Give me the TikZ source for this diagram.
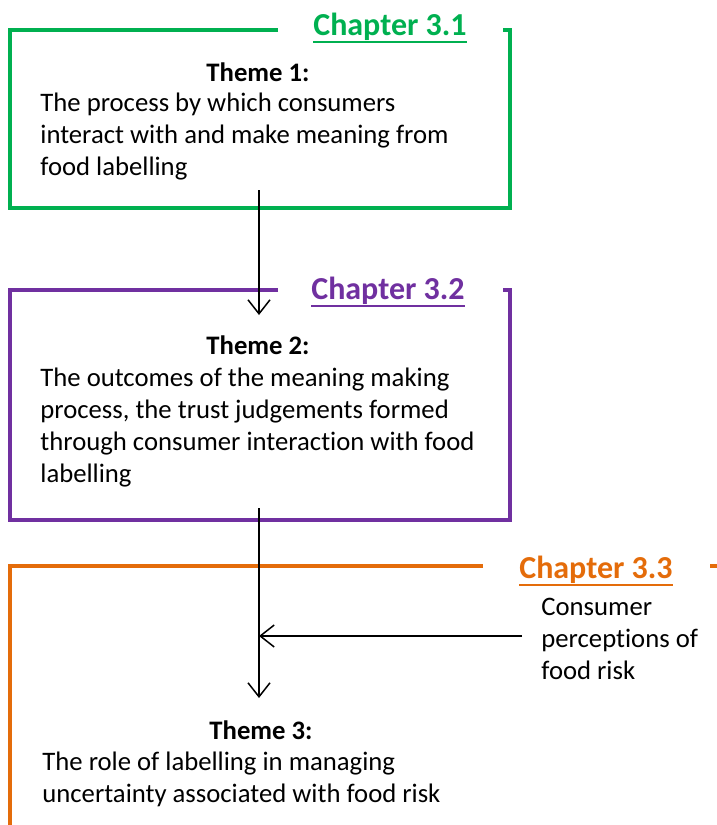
\documentclass[tikz,border=0pt]{standalone}
\usepackage{fontspec}
\setmainfont{Carlito}[Ligatures=NoCommon]
\usepackage{xcolor}
\definecolor{chgreen}{RGB}{0,176,80}
\definecolor{chpurple}{RGB}{112,48,160}
\definecolor{chorange}{RGB}{228,108,10}
\usetikzlibrary{arrows.meta, positioning, calc}
\newcommand{\chapul}[1]{\setbox0\hbox{#1}\rlap{\rule[-4pt]{\wd0}{1pt}}\box0}

\begin{document}
\begin{tikzpicture}[
    x=0.5pt, y=-0.5pt,
    frame/.style={line width=2pt},
    chapter/.style={anchor=base, inner sep=0pt, font=\fontsize{16}{19}\selectfont\bfseries},
    theme/.style={anchor=base, inner sep=0pt, font=\fontsize{13.35}{15.85}\selectfont\bfseries},
    body/.style={anchor=north west, inner sep=0pt, align=left, font=\fontsize{13.35}{15.85}\selectfont},
    flow/.style={line width=0.75pt, -{Straight Barb[length=7pt, width=11pt]}}
    ]
    \useasboundingbox (0,0) rectangle (717,825);

    % chapter 3.1
    \draw[frame, chgreen] (278,30) -- (10,30) -- (10,208) -- (510,208) -- (510,30) -- (503,30);
    \node[chapter, text=chgreen] (ch1) at (390,35) {\chapul{Chapter 3.1}};
    \node[theme] (th1) at (258,81) {Theme 1:};
    \node[body] (txt1) at (40,93) {The process by which consumers\\interact with and make meaning from\\food labelling};

    % chapter 3.2
    \draw[frame, chpurple] (278,290) -- (10,290) -- (10,520) -- (510,520) -- (510,290) -- (503,290);
    \node[chapter, text=chpurple] (ch2) at (388,299) {\chapul{Chapter 3.2}};
    \node[theme] (th2) at (258,354) {Theme 2:};
    \node[body] (txt2) at (40,368) {The outcomes of the meaning making\\process, the trust judgements formed\\through consumer interaction with food\\labelling};

    % chapter 3.3
    \draw[frame, chorange] (483,566) -- (10,566) -- (10,825);
    \draw[frame, chorange] (710,566) -- (717,566);
    \node[chapter, text=chorange] (ch3) at (596,578) {\chapul{Chapter 3.3}};
    \node[body] (risk) at (541,598) {Consumer\\perceptions of\\food risk};
    \node[theme] (th3) at (261,739) {Theme 3:};
    \node[body] (txt3) at (42,752) {The role of labelling in managing\\uncertainty associated with food risk};

    % links
    \coordinate (out1) at (259,190);
    \coordinate (in2) at (259,315);
    \coordinate (out2) at (259,508);
    \coordinate (in3) at (259,698);
    \coordinate (riskout) at (522,636);
    \coordinate (join) at (259,636);
    \draw[flow] (out1) -- (in2);
    \draw[flow] (out2) -- (in3);
    \draw[flow] (riskout) -- (join);
\end{tikzpicture}
\end{document}
